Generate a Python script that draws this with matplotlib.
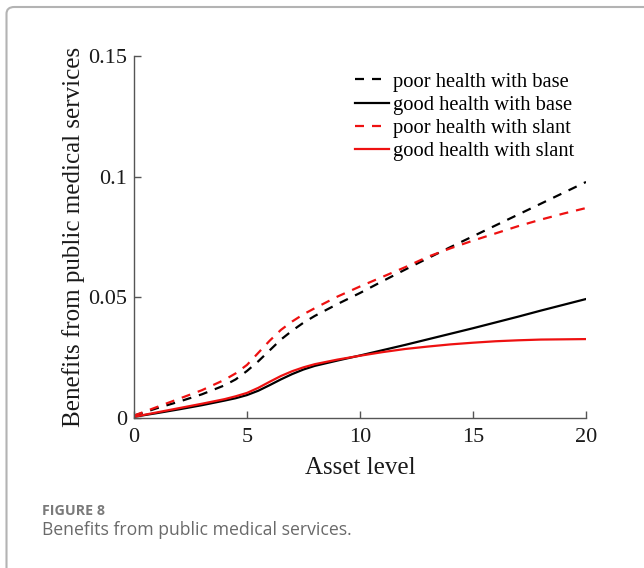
import matplotlib
matplotlib.use("Agg")
import matplotlib.pyplot as plt
from matplotlib.patches import FancyBboxPatch

# Asset level grid (denser through the bend between 4 and 8)
asset = [0, 1, 2, 3, 4, 4.5, 5, 5.5, 6, 6.5, 7, 7.5, 8, 9, 10,
         11, 12, 13, 14, 15, 16, 17, 18, 19, 20]

# Benefits from public medical services by scenario
poor_base = [0.001, 0.004, 0.0068, 0.0098, 0.0135, 0.016, 0.0195, 0.0235, 0.028, 0.0325, 0.0362,
             0.0395, 0.0423, 0.0472, 0.0518, 0.0567, 0.0615, 0.0662, 0.0708, 0.0753, 0.0798,
             0.0843, 0.0888, 0.0933, 0.0978]
good_base = [0.0005, 0.002, 0.0036, 0.0053, 0.0072, 0.0082, 0.0095, 0.0113, 0.0136, 0.016, 0.0182,
             0.0201, 0.0216, 0.0238, 0.0259, 0.0281, 0.0303, 0.0326, 0.0349, 0.0372, 0.0396,
             0.042, 0.0445, 0.0469, 0.0493]
poor_slant = [0.001, 0.0045, 0.008, 0.0115, 0.0158, 0.0185, 0.022, 0.027, 0.032, 0.0365, 0.040,
              0.043, 0.0455, 0.0503, 0.0545, 0.0585, 0.0625, 0.0668, 0.0703, 0.0735, 0.0765,
              0.0795, 0.0822, 0.0847, 0.087]
good_slant = [0.0005, 0.0023, 0.0041, 0.0059, 0.0078, 0.009, 0.0104, 0.0125, 0.015, 0.0174, 0.0194,
              0.021, 0.0223, 0.0242, 0.0258, 0.0273, 0.0286, 0.0296, 0.0305, 0.0312, 0.0318,
              0.0322, 0.0325, 0.0326, 0.0327]

labels = ["poor health with base", "good health with base",
          "poor health with slant", "good health with slant"]
xticks = [0, 5, 10, 15, 20]
yticks = [0, 0.05, 0.1, 0.15]
ytick_labels = ["0", "0.05", "0.1", "0.15"]

serif = "Liberation Serif"
W, H = 644, 568
fig = plt.figure(figsize=(W / 100, H / 100), dpi=100)

# Rounded frame around the figure panel
frame = FancyBboxPatch((6.5 / W, -0.2), 1.2, 1.2 - 7 / H,
                       boxstyle="round,pad=0,rounding_size=0.012",
                       transform=fig.transFigure, facecolor="none",
                       edgecolor="#b3b3b3", linewidth=1.5, zorder=0)
fig.patches.append(frame)

ax = fig.add_axes([134 / W, 1 - 418 / H, (586 - 134) / W, (418 - 56) / H])
ax.set_facecolor("none")

lw = 1.6
dash = (0, (4.05, 3.6))
ax.plot(asset, poor_base, color="black", lw=lw, linestyle=dash, label=labels[0])
ax.plot(asset, good_base, color="black", lw=lw, label=labels[1])
ax.plot(asset, poor_slant, color="#ee1111", lw=lw, linestyle=dash, label=labels[2])
ax.plot(asset, good_slant, color="#ee1111", lw=lw, label=labels[3])

ax.set_xlim(0, 20)
ax.set_ylim(0, 0.15)
ax.set_xticks(xticks)
ax.set_xticklabels([str(t) for t in xticks], fontfamily=serif, fontsize=16)
ax.set_yticks(yticks)
ax.set_yticklabels(ytick_labels, fontfamily=serif, fontsize=16)

for side in ("top", "right"):
    ax.spines[side].set_visible(False)
for side in ("left", "bottom"):
    ax.spines[side].set_color("#555555")
    ax.spines[side].set_linewidth(1.0)
ax.tick_params(direction="in", length=5, width=1.0, color="#555555", labelcolor="#1a1a1a")
ax.tick_params(axis="x", pad=7.5)
ax.tick_params(axis="y", pad=5)

ax.set_xlabel("Asset level", fontfamily=serif, fontsize=18, color="#1a1a1a", labelpad=7)
ax.set_ylabel("Benefits from public medical services", fontfamily=serif, fontsize=18,
              color="#1a1a1a", labelpad=2)

leg = ax.legend(loc="upper left", bbox_to_anchor=(0.471, 0.978), frameon=False,
                prop={"family": serif, "size": 14.8}, handlelength=1.65,
                handletextpad=0.2, labelspacing=0.19, borderaxespad=0)

fig.text(42 / W, 1 - 515 / H, "FIGURE 8", fontfamily="Open Sans", fontsize=10.3,
         fontweight="bold", color="#7a7a7a", va="baseline", ha="left")
fig.text(42 / W, 1 - 535 / H, "Benefits from public medical services.", fontfamily="Open Sans",
         fontsize=12.7, color="#6a6a6a", va="baseline", ha="left")

fig.savefig("out.png", dpi=100)
